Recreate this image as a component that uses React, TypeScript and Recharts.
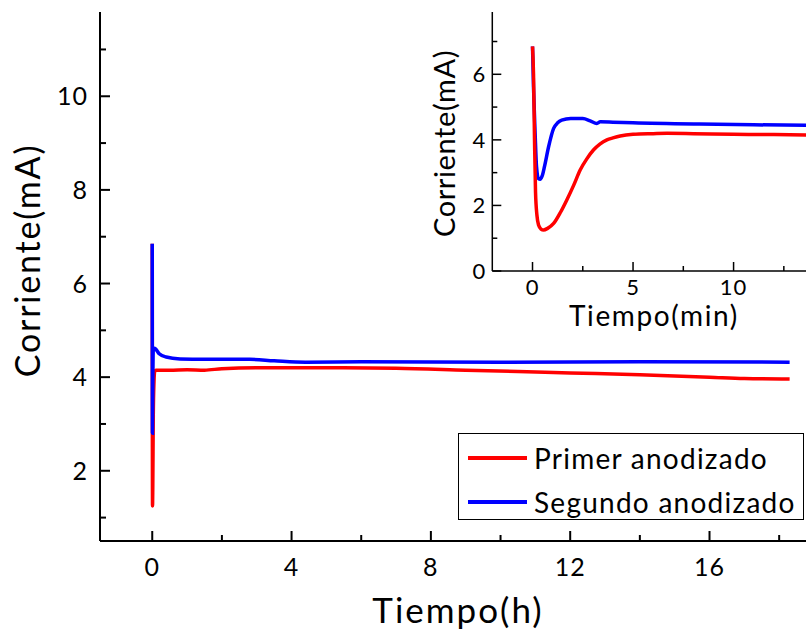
import { Legend, Line, LineChart, XAxis, YAxis } from "recharts";

const FONT = "Lato, 'Open Sans', sans-serif";
const RED = "#ff0000";
const BLUE = "#0000ff";

// main chart, time in hours
const X_TICKS_H = [0, 2, 4, 6, 8, 10, 12, 14, 16, 18];
const Y_TICKS_MAIN = [1, 2, 3, 4, 5, 6, 7, 8, 9, 10, 11];

const redHoursT = [0, 0.004, 0.008, 0.015, 0.03, 0.05, 0.07, 0.1, 0.5, 1.0, 1.5, 2.0, 3.0, 5.0, 7.0, 9.0, 10.5, 12.0, 14.0, 16.0, 17.0, 18.3];
const redHoursI = [6.85, 2.5, 1.25, 1.6, 3.2, 3.9, 4.12, 4.15, 4.15, 4.16, 4.15, 4.18, 4.2, 4.2, 4.19, 4.15, 4.12, 4.09, 4.05, 4.0, 3.97, 3.96];

const blueHoursT = [0, 0.003, 0.006, 0.015, 0.03, 0.06, 0.1, 0.2, 0.4, 0.8, 1.5, 2.8, 3.5, 4.4, 6.0, 10.0, 14.0, 18.3];
const blueHoursI = [6.85, 4.0, 2.8, 3.8, 4.6, 4.62, 4.6, 4.5, 4.43, 4.39, 4.38, 4.38, 4.35, 4.32, 4.33, 4.32, 4.33, 4.32];

// inset, first minutes
const X_TICKS_MIN = [0, 2.5, 5, 7.5, 10, 12.5];
const Y_TICKS_INSET = [0, 1, 2, 3, 4, 5, 6, 7];

const redMinT = [0, 0.05, 0.1, 0.15, 0.22, 0.3, 0.42, 0.55, 0.75, 1.05, 1.4, 1.7, 2.05, 2.37, 2.7, 3.03, 3.35, 3.7, 4.0, 4.36, 5.0, 6.0, 6.7, 8.0, 10.0, 12.0, 13.9];
const redMinI = [6.85, 6.0, 4.0, 2.4, 1.7, 1.4, 1.28, 1.25, 1.3, 1.45, 1.8, 2.16, 2.62, 3.08, 3.42, 3.69, 3.87, 4.0, 4.06, 4.12, 4.17, 4.19, 4.2, 4.19, 4.17, 4.16, 4.15];

const blueMinT = [0, 0.05, 0.13, 0.2, 0.3, 0.38, 0.48, 0.6, 0.8, 1.05, 1.25, 1.45, 1.9, 2.5, 2.87, 3.2, 3.37, 4.0, 5.0, 8.3, 11.0, 13.9];
const blueMinI = [6.85, 5.6, 4.2, 3.18, 2.82, 2.8, 2.9, 3.2, 3.79, 4.35, 4.52, 4.6, 4.65, 4.65, 4.58, 4.5, 4.55, 4.54, 4.52, 4.48, 4.46, 4.44];

const zip = (ts: number[], is: number[]) => ts.map((t, k) => ({ t, i: is[k] }));

interface TickProps {
  x?: number;
  y?: number;
  payload?: { value: number };
  gap: number;
  isMajor: (v: number) => boolean;
  majorLen: number;
  minorLen: number;
  fontSize: number;
  sw: number;
}

/** Bottom axis tick drawn pointing into the plot, label below. */
function BottomTick({ x = 0, y = 0, payload, gap, isMajor, majorLen, minorLen, fontSize, sw }: TickProps) {
  const v = payload?.value ?? 0;
  const major = isMajor(v);
  const axisY = y - gap;
  return (
    <g>
      <line x1={x} x2={x} y1={axisY} y2={axisY - (major ? majorLen : minorLen)} stroke="#000" strokeWidth={sw} />
      {major && (
        <text x={x} y={y} textAnchor="middle" fontSize={fontSize} fontFamily={FONT} fill="#000" style={{ letterSpacing: 1 }}>
          {v}
        </text>
      )}
    </g>
  );
}

/** Left axis tick drawn pointing into the plot, label on the left. */
function LeftTick({ x = 0, y = 0, payload, gap, isMajor, majorLen, minorLen, fontSize, sw }: TickProps) {
  const v = payload?.value ?? 0;
  const major = isMajor(v);
  const axisX = x + gap;
  return (
    <g>
      <line x1={axisX} x2={axisX + (major ? majorLen : minorLen)} y1={y} y2={y} stroke="#000" strokeWidth={sw} />
      {major && (
        <text x={x} y={y} dy="0.36em" textAnchor="end" fontSize={fontSize} fontFamily={FONT} fill="#000" style={{ letterSpacing: 1 }}>
          {v}
        </text>
      )}
    </g>
  );
}

// axis titles placed relative to the axis box recharts hands over
function yTitle(text: string, dx: number, dy: number, fontSize: number, spacing: number) {
  return (props: any) => {
    const vb = props.viewBox ?? { x: 0, y: 0, width: 0, height: 0 };
    const cx = vb.x + dx;
    const cy = vb.y + vb.height / 2 + dy;
    return (
      <text
        x={cx}
        y={cy}
        textAnchor="middle"
        transform={`rotate(-90, ${cx}, ${cy})`}
        fontSize={fontSize}
        fontFamily={FONT}
        fill="#000"
        style={{ letterSpacing: spacing }}
      >
        {text}
      </text>
    );
  };
}

function xTitle(text: string, fromBottom: number, fontSize: number, spacing: number) {
  return (props: any) => {
    const vb = props.viewBox ?? { x: 0, y: 0, width: 0, height: 0 };
    return (
      <text
        x={vb.x + vb.width / 2 + spacing / 2}
        y={vb.y + vb.height - fromBottom}
        textAnchor="middle"
        fontSize={fontSize}
        fontFamily={FONT}
        fill="#000"
        style={{ letterSpacing: spacing }}
      >
        {text}
      </text>
    );
  };
}

function LegendBox({ payload }: any) {
  return (
    <div
      style={{
        boxSizing: "border-box",
        width: 346,
        height: 87,
        border: "1.2px solid #000",
        background: "#fff",
        paddingTop: 2,
        fontFamily: FONT,
      }}
    >
      {(payload ?? []).map((p: any) => (
        <div key={p.value} style={{ display: "flex", alignItems: "center", height: 44 }}>
          <span style={{ display: "inline-block", marginLeft: 9, width: 59, height: 4, background: p.color }} />
          <span style={{ marginLeft: 7, fontSize: 28, lineHeight: 1, letterSpacing: 1.25, color: "#000" }}>{p.value}</span>
        </div>
      ))}
    </div>
  );
}

export default function App() {
  return (
    <div
      style={{
        position: "absolute",
        left: 0,
        top: 0,
        width: 806,
        height: 632,
        overflow: "hidden",
        background: "#fff",
        fontFamily: FONT,
      }}
    >
      <div style={{ position: "absolute", left: 0, top: 0 }}>
        <LineChart width={820} height={632} margin={{ top: 12, right: 6, bottom: 0, left: 0 }}>
          <XAxis
            dataKey="t"
            type="number"
            domain={[-1.5, 19]}
            ticks={X_TICKS_H}
            interval={0}
            allowDataOverflow
            height={91}
            tickSize={0}
            tickMargin={35}
            tickLine={false}
            axisLine={{ stroke: "#000", strokeWidth: 2 }}
            tick={(p: any) => (
              <BottomTick {...p} gap={35} isMajor={(v) => v % 4 === 0} majorLen={10} minorLen={6} fontSize={25} sw={2} />
            )}
            label={xTitle("Tiempo(h)", 9, 35, 2)}
          />
          <XAxis
            xAxisId="top"
            orientation="top"
            type="number"
            domain={[-1.5, 19]}
            height={0}
            tick={false}
            tickLine={false}
            axisLine={{ stroke: "#000", strokeWidth: 2 }}
          />
          <YAxis
            type="number"
            domain={[0.5, 11.8]}
            ticks={Y_TICKS_MAIN}
            interval={0}
            allowDataOverflow
            width={100}
            tickSize={0}
            tickMargin={12}
            tickLine={false}
            axisLine={{ stroke: "#000", strokeWidth: 2 }}
            tick={(p: any) => (
              <LeftTick {...p} gap={12} isMajor={(v) => v % 2 === 0} majorLen={10} minorLen={6} fontSize={25} sw={2} />
            )}
            label={yTitle("Corriente(mA)", 40, -16, 34, 1.8)}
          />
          <Line
            data={zip(redHoursT, redHoursI)}
            dataKey="i"
            name="Primer anodizado"
            type="monotone"
            stroke={RED}
            strokeWidth={3.5}
            dot={false}
            isAnimationActive={false}
          />
          <Line
            data={zip(blueHoursT, blueHoursI)}
            dataKey="i"
            name="Segundo anodizado"
            type="monotone"
            stroke={BLUE}
            strokeWidth={3.5}
            dot={false}
            isAnimationActive={false}
          />
          <Legend
            layout="vertical"
            align="center"
            verticalAlign="middle"
            content={<LegendBox />}
            wrapperStyle={{ position: "absolute", left: 458, top: 433, width: 346, height: 87 }}
          />
        </LineChart>
      </div>

      <div style={{ position: "absolute", left: 400, top: 0 }}>
        <LineChart width={420} height={340} margin={{ top: 12, right: 6, bottom: 0, left: 0 }}>
          <XAxis
            dataKey="t"
            type="number"
            domain={[-2, 14]}
            ticks={X_TICKS_MIN}
            interval={0}
            allowDataOverflow
            height={69}
            tickSize={0}
            tickMargin={24}
            tickLine={false}
            axisLine={{ stroke: "#000", strokeWidth: 1.5 }}
            tick={(p: any) => (
              <BottomTick {...p} gap={24} isMajor={(v) => v % 5 === 0} majorLen={9} minorLen={5} fontSize={22} sw={1.5} />
            )}
            label={xTitle("Tiempo(min)", 14, 28, 1.6)}
          />
          <YAxis
            type="number"
            domain={[0, 7.9]}
            ticks={Y_TICKS_INSET}
            interval={0}
            allowDataOverflow
            width={92.3}
            tickSize={0}
            tickMargin={6}
            tickLine={false}
            axisLine={{ stroke: "#000", strokeWidth: 1.5 }}
            tick={(p: any) => (
              <LeftTick {...p} gap={6} isMajor={(v) => v % 2 === 0} majorLen={9} minorLen={5} fontSize={22} sw={1.5} />
            )}
            label={yTitle("Corriente(mA)", 55, 2, 29, 0.6)}
          />
          <Line
            data={zip(blueMinT, blueMinI)}
            dataKey="i"
            type="monotone"
            stroke={BLUE}
            strokeWidth={3.5}
            dot={false}
            isAnimationActive={false}
          />
          <Line
            data={zip(redMinT, redMinI)}
            dataKey="i"
            type="monotone"
            stroke={RED}
            strokeWidth={3.5}
            dot={false}
            isAnimationActive={false}
          />
        </LineChart>
      </div>
    </div>
  );
}
